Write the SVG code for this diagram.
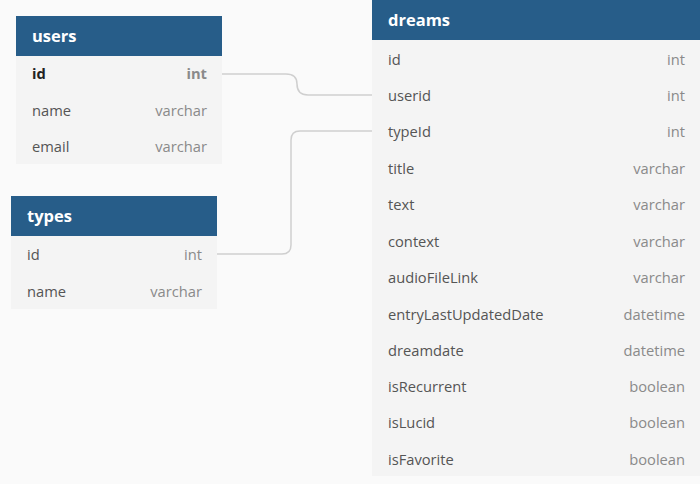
<svg xmlns="http://www.w3.org/2000/svg" width="700" height="484" viewBox="0 0 700 484">
<style>
.bg{fill:#fafafa}
.hdr{fill:#275d89}
.body{fill:#f4f4f4}
.title{font-family:"Open Sans","Noto Sans",sans-serif;font-size:16.5px;font-weight:bold;fill:#ffffff}
.fn{font-family:"Open Sans","Noto Sans",sans-serif;font-size:14.7px;fill:#555555}
.ft{font-family:"Open Sans","Noto Sans",sans-serif;font-size:14.7px;fill:#8a8a8a;text-anchor:end}
.pk{font-weight:bold;fill:#222222}
.pkt{font-weight:bold;fill:#8a8a8a}
.conn{fill:none;stroke:#cfcfcf;stroke-width:1.5}
</style>
<rect class="bg" x="0" y="0" width="700" height="484"/>
<g id="connectors">
<path class="conn" d="M222,74 H286 Q297,74 297,84 Q297,95 308,95 H372"/>
<path class="conn" d="M217,254 H282 Q291,254 291,245 V140 Q291,131 300,131 H372"/>
</g>
<g id="users">
<rect class="body" x="16" y="56" width="206" height="108"/>
<rect class="hdr" x="16" y="16" width="206" height="40"/>
<text class="title" x="32" y="42">users</text>
<text class="fn pk" x="32" y="79">id</text><text class="ft pkt" x="207" y="79">int</text>
<text class="fn" x="32" y="116">name</text><text class="ft" x="207" y="116">varchar</text>
<text class="fn" x="32" y="152">email</text><text class="ft" x="207" y="152">varchar</text>
</g>
<g id="types">
<rect class="body" x="11" y="236" width="206" height="73"/>
<rect class="hdr" x="11" y="196" width="206" height="40"/>
<text class="title" x="27" y="222">types</text>
<text class="fn" x="27" y="260">id</text><text class="ft" x="202" y="260">int</text>
<text class="fn" x="27" y="297">name</text><text class="ft" x="202" y="297">varchar</text>
</g>
<g id="dreams">
<rect class="body" x="372" y="40" width="328" height="436"/>
<rect class="hdr" x="372" y="0" width="328" height="40"/>
<text class="title" x="388" y="26">dreams</text>
<text class="fn" x="388" y="65">id</text><text class="ft" x="685" y="65">int</text>
<text class="fn" x="388" y="101">userid</text><text class="ft" x="685" y="101">int</text>
<text class="fn" x="388" y="137">typeId</text><text class="ft" x="685" y="137">int</text>
<text class="fn" x="388" y="174">title</text><text class="ft" x="685" y="174">varchar</text>
<text class="fn" x="388" y="210">text</text><text class="ft" x="685" y="210">varchar</text>
<text class="fn" x="388" y="247">context</text><text class="ft" x="685" y="247">varchar</text>
<text class="fn" x="388" y="283">audioFileLink</text><text class="ft" x="685" y="283">varchar</text>
<text class="fn" x="388" y="320">entryLastUpdatedDate</text><text class="ft" x="685" y="320">datetime</text>
<text class="fn" x="388" y="356">dreamdate</text><text class="ft" x="685" y="356">datetime</text>
<text class="fn" x="388" y="392">isRecurrent</text><text class="ft" x="685" y="392">boolean</text>
<text class="fn" x="388" y="428">isLucid</text><text class="ft" x="685" y="428">boolean</text>
<text class="fn" x="388" y="465">isFavorite</text><text class="ft" x="685" y="465">boolean</text>
</g>
</svg>
